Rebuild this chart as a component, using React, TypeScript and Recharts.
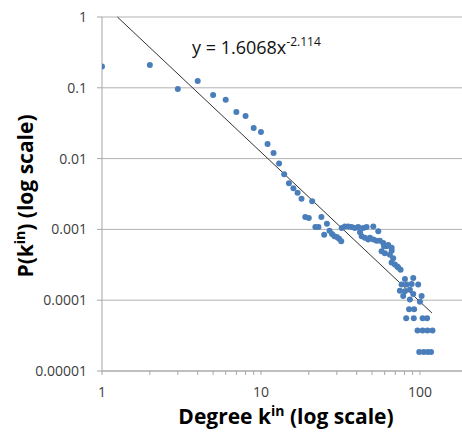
import React from "react";
import {
  ScatterChart,
  Scatter,
  XAxis,
  YAxis,
  CartesianGrid,
  ReferenceLine,
} from "recharts";

// in-degree values (k) and their probabilities P(k)
const degrees = [
  1, 2, 3, 4, 5, 6, 7, 8, 9, 10, 11, 12, 13, 14, 15, 16, 17, 18, 19, 20, 21,
  22, 23, 24, 25, 26, 27, 28, 29, 30, 31, 32,
];
const probabilities = [
  0.2, 0.21, 0.096, 0.125, 0.079, 0.068, 0.0455, 0.04, 0.027, 0.0238, 0.0161,
  0.012, 0.0085, 0.006, 0.0045, 0.0038, 0.0033, 0.0027, 0.0015, 0.00145,
  0.0025, 0.00108, 0.00108, 0.0015, 0.00084, 0.0012, 0.00096, 0.00086, 0.0008,
  0.00078, 0.00074, 0.00068,
];

// dense part of the tail
const tailDegrees = [
  32.2, 33.7, 35.4, 37.2, 39, 40.9, 44, 46.2, 50.9, 42, 43, 45, 47.3, 48.5, 51,
  53.4, 54.7, 56, 58.8, 59.5, 61.8, 63.2, 66.4, 57.4, 60.2, 64.7, 66.4, 67.9,
  66.4, 69.6, 72, 73.1, 75.6, 80.5, 90.8, 76.7, 82.5, 88.7, 97.5, 74.8, 80.5,
  86.5, 90.8, 102.5, 78.5, 86.5, 100, 85.5, 92, 82, 91.5, 104, 111, 96.6, 104,
  111.6, 120, 99, 105.5, 111.7, 117.5,
];
const tailProbabilities = [
  0.00105, 0.0011, 0.0011, 0.00108, 0.00105, 0.00108, 0.00105, 0.00108,
  0.0011, 0.00091, 0.0008, 0.00076, 0.00072, 0.00076, 0.00072, 0.00069,
  0.00094, 0.00069, 0.00064, 0.00058, 0.00058, 0.0006, 0.00055, 0.00049,
  0.00046, 0.00044, 0.0005, 0.00039, 0.00034, 0.00032, 0.0003, 0.00029,
  0.00027, 0.0002, 0.000206, 0.000166, 0.000166, 0.00017, 0.000166, 0.000136,
  0.000134, 0.00014, 0.000122, 0.000115, 0.000115, 0.000102, 0.000095,
  0.0000744, 0.0000744, 0.0000558, 0.0000558, 0.0000558, 0.0000558, 0.0000372,
  0.0000372, 0.0000372, 0.0000372, 0.0000186, 0.0000186, 0.0000186, 0.0000186,
];

// power-law trendline y = 1.6068x^-2.114, endpoints as drawn
const trendLine = [
  { x: 1.25, y: 1 },
  { x: 119, y: 0.000066 },
];

const xTicks = [1, 2, 3, 4, 5, 6, 7, 8, 9, 10, 20, 30, 40, 50, 60, 70, 80, 90, 100];
const xLabelTicks = [1, 10, 100];
const yTicks = [0.00001, 0.0001, 0.001, 0.01, 0.1, 1];

const points = [
  ...degrees.map((x, i) => ({ x, y: probabilities[i] })),
  ...tailDegrees.map((x, i) => ({ x, y: tailProbabilities[i] })),
];

const font = "'Open Sans', sans-serif";

const Dot = (props: any) => (
  <circle cx={props.cx} cy={props.cy} r={3} fill="#4a7ebb" />
);

const XTitle = () => (
  <text
    x={286}
    y={424}
    textAnchor="middle"
    fontFamily={font}
    fontWeight={700}
    fontSize={21}
    fill="#000"
  >
    Degree k
    <tspan dy={-8} fontSize={14}>
      in
    </tspan>
    <tspan dy={8}> (log scale)</tspan>
  </text>
);

const YTitle = () => (
  <g>
    <text
      x={33}
      y={196}
      transform="rotate(-90, 33, 196)"
      textAnchor="middle"
      fontFamily={font}
      fontWeight={700}
      fontSize={21}
      fill="#000"
    >
      P(k
      <tspan dy={-8} fontSize={14}>
        in
      </tspan>
      <tspan dy={8}>) (log scale)</tspan>
    </text>
    <text x={192} y={54} fontFamily={font} fontSize={18} fill="#111">
      y = 1.6068x
      <tspan dy={-8} fontSize={12}>
        -2.114
      </tspan>
    </text>
  </g>
);

export default function App() {
  return (
    <div style={{ position: "absolute", left: 0, top: 0 }}>
      <ScatterChart
        width={462}
        height={437}
        margin={{ top: 17, right: 0, bottom: 0, left: 0 }}
      >
        <CartesianGrid vertical={false} stroke="#b3b3b3" />
        <XAxis
          type="number"
          dataKey="x"
          scale="log"
          domain={[1, 184]}
          allowDataOverflow
          ticks={xTicks}
          interval={0}
          tickFormatter={(v: number) => (xLabelTicks.includes(v) ? String(v) : "")}
          tickSize={4}
          tickMargin={12}
          height={66}
          stroke="#a6a6a6"
          tick={{ fill: "#404040", fontSize: 14, fontFamily: font }}
          label={<XTitle />}
        />
        <YAxis
          type="number"
          dataKey="y"
          scale="log"
          domain={[0.00001, 1]}
          allowDataOverflow
          ticks={yTicks}
          interval={0}
          tickFormatter={(v: number) => String(v)}
          tickSize={5}
          tickMargin={10}
          width={102}
          stroke="#a6a6a6"
          tick={{ fill: "#404040", fontSize: 14, fontFamily: font }}
          label={<YTitle />}
        />
        <ReferenceLine
          segment={trendLine}
          stroke="#333"
          strokeWidth={1}
          ifOverflow="visible"
        />
        <Scatter data={points} shape={Dot} isAnimationActive={false} />
      </ScatterChart>
    </div>
  );
}
